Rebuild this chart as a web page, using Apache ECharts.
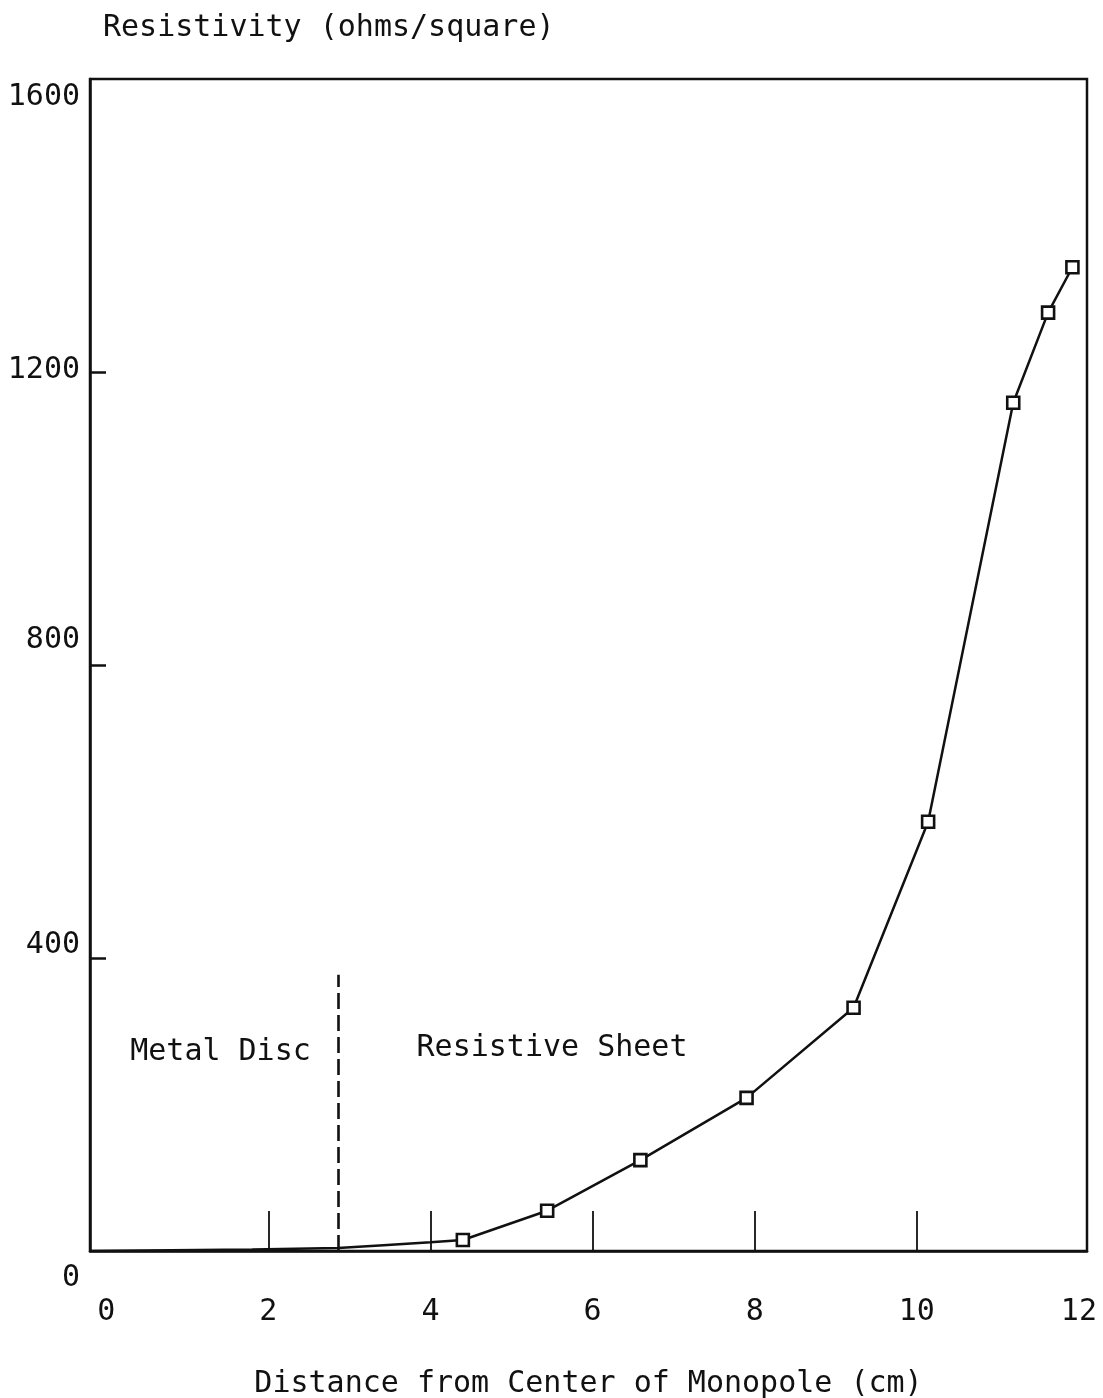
<!DOCTYPE html>
<html>
<head>
<meta charset="utf-8">
<script src="https://cdn.jsdelivr.net/npm/echarts@6/dist/echarts.min.js"></script>
<style>
html,body{margin:0;padding:0;background:#fff;}
#c{width:1103px;height:1398px;}
</style>
</head>
<body>
<div id="c"></div>
<script>
// unmarked part of the curve (metal disc region and start of sheet)
const lineX = [-0.2, 0.8, 1.8, 2.86, 3.42, 4.0];
const lineY = [0, 1, 2, 4, 8, 12];
// measured points (square markers)
const markX = [4.40, 5.44, 6.59, 7.90, 9.22, 10.14, 11.19, 11.62, 11.92];
const markY = [15, 55, 124, 209, 332, 586, 1158, 1281, 1343];
const xLabels = [0, 2, 4, 6, 8, 10, 12];
const xTicks = [2, 4, 6, 8, 10];
const yLabels = [0, 400, 800, 1200, 1600];
const yTicks = [400, 800, 1200];
const boundaryX = 2.86, boundaryTop = 377;

const FONT = 'DejaVu Sans Mono';
const FS = 30;
const data = [];
lineX.forEach((x, i) => data.push({value: [x, lineY[i]], symbol: 'none'}));
markX.forEach((x, i) => data.push({value: [x, markY[i]]}));

const chart = echarts.init(document.getElementById('c'));
chart.setOption({
  animation: false,
  backgroundColor: '#fff',
  title: {
    text: 'Resistivity (ohms/square)',
    left: 98, top: 8,
    textStyle: {fontFamily: FONT, fontSize: FS, fontWeight: 'normal', color: '#111'}
  },
  grid: {left: 90, right: 16, top: 79, bottom: 147, show: true,
    outerBoundsMode: 'none', containLabel: false,
    borderColor: '#111', borderWidth: 2.5, backgroundColor: 'transparent'},
  xAxis: {
    type: 'value', min: -0.2, max: 12.1,
    name: 'Distance from Center of Monopole (cm)',
    nameLocation: 'middle', nameGap: 118,
    nameTextStyle: {fontFamily: FONT, fontSize: FS, color: '#111'},
    axisLine: {show: true, onZero: false, lineStyle: {color: '#111', width: 2.5}},
    axisTick: {show: true, inside: true, length: 40, customValues: xTicks,
      lineStyle: {color: '#111', width: 1.8}},
    axisLabel: {customValues: xLabels, margin: 46, fontFamily: FONT, fontSize: FS, color: '#111'},
    splitLine: {show: false}
  },
  yAxis: {
    type: 'value', min: 0, max: 1600, interval: 400,
    axisLine: {show: true, onZero: false, lineStyle: {color: '#111', width: 2.5}},
    axisTick: {show: true, inside: true, length: 16, customValues: yTicks,
      lineStyle: {color: '#111', width: 2.5}},
    axisLabel: {
      customValues: yLabels, margin: 10,
      formatter: v => '{l' + v + '|' + v + '}',
      rich: {
        l0: {fontFamily: FONT, fontSize: FS, color: '#111', padding: [54, 0, 0, 0]},
        l400: {fontFamily: FONT, fontSize: FS, color: '#111', padding: [0, 0, 26, 0]},
        l800: {fontFamily: FONT, fontSize: FS, color: '#111', padding: [0, 0, 50, 0]},
        l1200: {fontFamily: FONT, fontSize: FS, color: '#111', padding: [0, 0, 4, 0]},
        l1600: {fontFamily: FONT, fontSize: FS, color: '#111', padding: [36, 0, 0, 0]}
      }
    },
    splitLine: {show: false}
  },
  series: [{
    type: 'line',
    data: data,
    symbol: 'rect', symbolSize: 12,
    showAllSymbol: true,
    itemStyle: {color: '#fff', borderColor: '#111', borderWidth: 2.6},
    lineStyle: {color: '#111', width: 2.5},
    markLine: {
      silent: true, symbol: 'none', label: {show: false},
      lineStyle: {color: '#111', width: 2.6, type: [16, 6]},
      data: [[{coord: [boundaryX, 0]}, {coord: [boundaryX, boundaryTop]}]]
    },
    markPoint: {
      silent: true, symbol: 'circle', symbolSize: 0,
      label: {show: true, position: 'inside', fontFamily: FONT, fontSize: FS, color: '#111',
        formatter: p => p.name},
      data: [
        {name: 'Metal Disc', coord: [1.41, 272]},
        {name: 'Resistive Sheet', coord: [5.50, 277]}
      ]
    }
  }]
});
</script>
</body>
</html>
